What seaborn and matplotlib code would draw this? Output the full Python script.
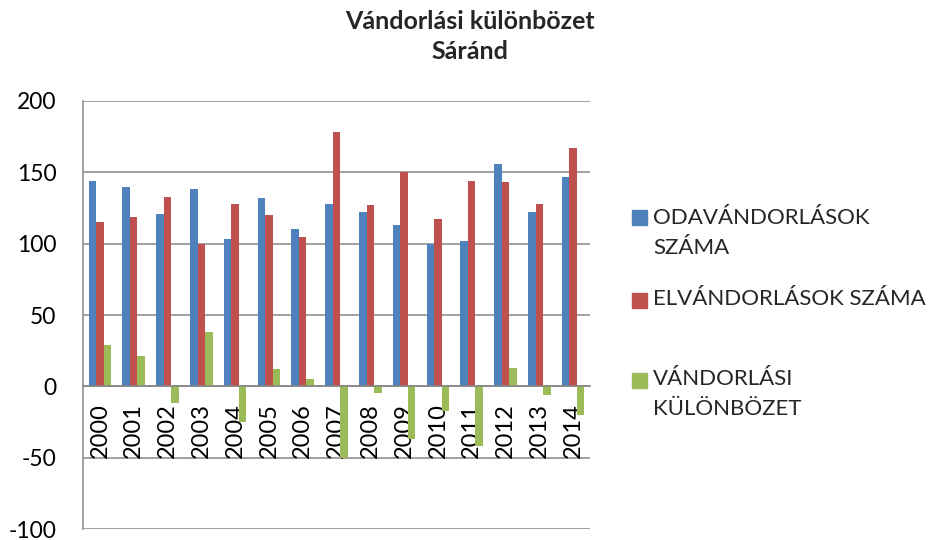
import matplotlib
matplotlib.use("Agg")
import matplotlib.pyplot as plt
from matplotlib.patches import Rectangle
import seaborn as sns
import pandas as pd
import numpy as np

years = ["2000", "2001", "2002", "2003", "2004", "2005", "2006", "2007",
         "2008", "2009", "2010", "2011", "2012", "2013", "2014"]
odavandorlas = [144, 140, 121, 138, 103, 132, 110, 128, 122, 113, 100, 102, 156, 122, 147]
elvandorlas = [115, 119, 133, 100, 128, 120, 105, 178, 127, 150, 117, 144, 143, 128, 167]
kulonbozet = [29, 21, -12, 38, -25, 12, 5, -50, -5, -37, -17, -42, 13, -6, -20]

series_names = ["ODAVÁNDORLÁSOK SZÁMA", "ELVÁNDORLÁSOK SZÁMA", "VÁNDORLÁSI KÜLÖNBÖZET"]
legend_labels = ["ODAVÁNDORLÁSOK\nSZÁMA", "ELVÁNDORLÁSOK SZÁMA", "VÁNDORLÁSI\nKÜLÖNBÖZET"]
colors = ["#4F81BD", "#C0504D", "#9BBB59"]
title = "Vándorlási különbözet\nSáránd"
yticks = [-100, -50, 0, 50, 100, 150, 200]

df = pd.DataFrame({
    "év": years * 3,
    "sorozat": [series_names[0]] * 15 + [series_names[1]] * 15 + [series_names[2]] * 15,
    "érték": odavandorlas + elvandorlas + kulonbozet,
})

sns.set_theme(style="white")
plt.rcParams["font.family"] = ["Lato", "DejaVu Sans"]
plt.rcParams["axes.unicode_minus"] = False

fig = plt.figure(figsize=(9.31, 5.40), dpi=100)
ax = fig.add_axes([83 / 931, 1 - 529 / 540, (590 - 83) / 931, (529 - 101) / 540])

sns.barplot(data=df, x="év", y="érték", hue="sorozat", palette=colors,
            width=0.667, saturation=1, ax=ax, legend=False, linewidth=0)

grid_c = "#868686"
for yv in yticks:
    ax.axhline(yv, color=grid_c, lw=1.1, zorder=0.5)

ax.set_ylim(-100, 200)
ax.set_xlim(-0.5, len(years) - 0.5)
ax.set_yticks(yticks)
ax.set_xlabel("")
ax.set_ylabel("")

for s in ["top", "right"]:
    ax.spines[s].set_visible(False)
ax.spines["left"].set_color(grid_c)
ax.spines["left"].set_linewidth(1.1)
ax.spines["bottom"].set_position(("data", 0))
ax.spines["bottom"].set_color(grid_c)
ax.spines["bottom"].set_linewidth(1.1)

ax.tick_params(axis="y", which="major", length=5, width=1.1, color=grid_c,
               direction="out", pad=14, labelsize=16.5, labelcolor="black")
ax.set_xticks(np.arange(len(years)))
ax.set_xticklabels(years, rotation=90)
ax.tick_params(axis="x", which="major", length=0, pad=12, labelsize=17,
               labelcolor="black")
ax.set_xticks(np.arange(-0.5, len(years)), minor=True)
ax.tick_params(axis="x", which="minor", length=5, width=1.1, color=grid_c,
               direction="out")

fig.text(0.505, 0.982, title, ha="center", va="top", fontsize=18,
         fontweight="bold", linespacing=1.38)

# legend drawn as squares with text beside them
legend_rows = [(218, 219), (300, 300), (380, 380)]
for (sq_y, tx_y), lab, c in zip(legend_rows, legend_labels, colors):
    fig.patches.append(Rectangle((632 / 931, 1 - (sq_y + 7.5) / 540), 15 / 931, 15 / 540,
                                 transform=fig.transFigure, color=c))
    fig.text(653 / 931, 1 - (tx_y - 11) / 540, lab, ha="left", va="top",
             fontsize=16, linespacing=1.62)

fig.savefig("out.png", dpi=100)
